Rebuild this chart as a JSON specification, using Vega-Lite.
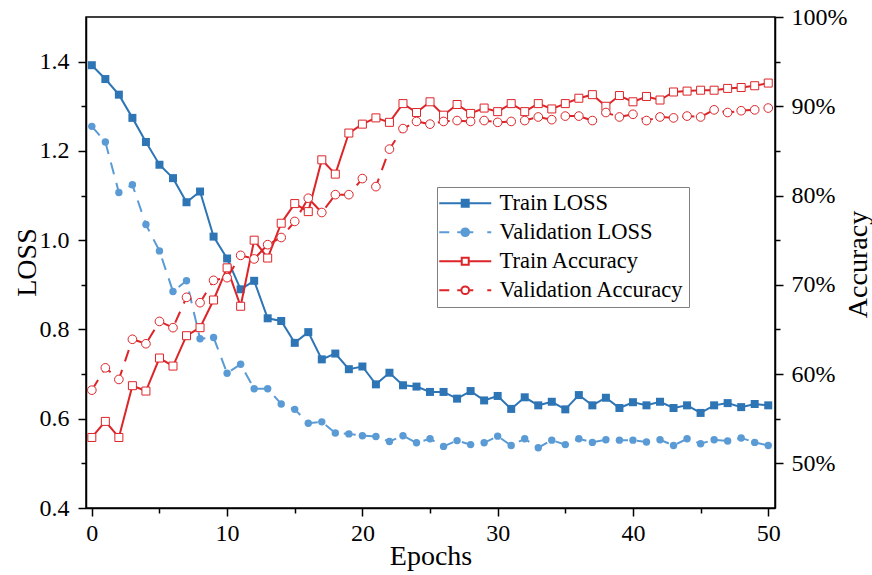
{
  "$schema": "https://vega.github.io/schema/vega-lite/v6.json",
  "width": 689,
  "height": 491,
  "autosize": {"type": "none"},
  "padding": {"left": 86, "top": 17, "right": 97, "bottom": 67},
  "background": "white",
  "config": {
    "view": {"stroke": "black", "strokeWidth": 1.5},
    "axis": {
      "grid": false,
      "domainColor": "black",
      "domainWidth": 1.5,
      "tickColor": "black",
      "tickWidth": 1.5,
      "labelFont": "Liberation Serif",
      "labelFontSize": 24,
      "labelColor": "black",
      "titleFont": "Liberation Serif",
      "titleFontSize": 28,
      "titleFontWeight": "normal",
      "titleColor": "black"
    },
    "legend": {
      "orient": "none",
      "legendX": 351,
      "legendY": 170,
      "padding": 5,
      "fillColor": "white",
      "strokeColor": "#808080",
      "labelFont": "Liberation Serif",
      "labelFontSize": 22.5,
      "labelColor": "black",
      "labelLimit": 0,
      "labelOffset": 35,
      "rowPadding": 6,
      "symbolSize": 196,
      "symbolStrokeWidth": 2,
      "symbolOpacity": 1
    }
  },
  "datasets": {
    "curves": [
      {"epoch": 0, "train_loss": 1.392, "val_loss": 1.255, "train_acc": 0.529, "val_acc": 0.582},
      {"epoch": 1, "train_loss": 1.361, "val_loss": 1.220, "train_acc": 0.547, "val_acc": 0.607},
      {"epoch": 2, "train_loss": 1.326, "val_loss": 1.107, "train_acc": 0.529, "val_acc": 0.594},
      {"epoch": 3, "train_loss": 1.274, "val_loss": 1.124, "train_acc": 0.587, "val_acc": 0.639},
      {"epoch": 4, "train_loss": 1.220, "val_loss": 1.035, "train_acc": 0.581, "val_acc": 0.634},
      {"epoch": 5, "train_loss": 1.169, "val_loss": 0.976, "train_acc": 0.618, "val_acc": 0.659},
      {"epoch": 6, "train_loss": 1.139, "val_loss": 0.885, "train_acc": 0.609, "val_acc": 0.652},
      {"epoch": 7, "train_loss": 1.085, "val_loss": 0.909, "train_acc": 0.643, "val_acc": 0.686},
      {"epoch": 8, "train_loss": 1.109, "val_loss": 0.779, "train_acc": 0.652, "val_acc": 0.680},
      {"epoch": 9, "train_loss": 1.008, "val_loss": 0.782, "train_acc": 0.683, "val_acc": 0.705},
      {"epoch": 10, "train_loss": 0.959, "val_loss": 0.702, "train_acc": 0.719, "val_acc": 0.708},
      {"epoch": 11, "train_loss": 0.890, "val_loss": 0.722, "train_acc": 0.676, "val_acc": 0.733},
      {"epoch": 12, "train_loss": 0.909, "val_loss": 0.667, "train_acc": 0.750, "val_acc": 0.729},
      {"epoch": 13, "train_loss": 0.825, "val_loss": 0.667, "train_acc": 0.730, "val_acc": 0.745},
      {"epoch": 14, "train_loss": 0.819, "val_loss": 0.633, "train_acc": 0.769, "val_acc": 0.753},
      {"epoch": 15, "train_loss": 0.770, "val_loss": 0.621, "train_acc": 0.791, "val_acc": 0.771},
      {"epoch": 16, "train_loss": 0.794, "val_loss": 0.590, "train_acc": 0.782, "val_acc": 0.797},
      {"epoch": 17, "train_loss": 0.733, "val_loss": 0.593, "train_acc": 0.840, "val_acc": 0.781},
      {"epoch": 18, "train_loss": 0.746, "val_loss": 0.568, "train_acc": 0.824, "val_acc": 0.801},
      {"epoch": 19, "train_loss": 0.711, "val_loss": 0.566, "train_acc": 0.870, "val_acc": 0.801},
      {"epoch": 20, "train_loss": 0.717, "val_loss": 0.562, "train_acc": 0.880, "val_acc": 0.819},
      {"epoch": 21, "train_loss": 0.677, "val_loss": 0.560, "train_acc": 0.887, "val_acc": 0.810},
      {"epoch": 22, "train_loss": 0.703, "val_loss": 0.549, "train_acc": 0.882, "val_acc": 0.852},
      {"epoch": 23, "train_loss": 0.675, "val_loss": 0.562, "train_acc": 0.903, "val_acc": 0.875},
      {"epoch": 24, "train_loss": 0.672, "val_loss": 0.546, "train_acc": 0.893, "val_acc": 0.883},
      {"epoch": 25, "train_loss": 0.660, "val_loss": 0.555, "train_acc": 0.905, "val_acc": 0.880},
      {"epoch": 26, "train_loss": 0.660, "val_loss": 0.538, "train_acc": 0.890, "val_acc": 0.883},
      {"epoch": 27, "train_loss": 0.645, "val_loss": 0.551, "train_acc": 0.902, "val_acc": 0.884},
      {"epoch": 28, "train_loss": 0.662, "val_loss": 0.542, "train_acc": 0.892, "val_acc": 0.883},
      {"epoch": 29, "train_loss": 0.641, "val_loss": 0.546, "train_acc": 0.898, "val_acc": 0.884},
      {"epoch": 30, "train_loss": 0.651, "val_loss": 0.561, "train_acc": 0.894, "val_acc": 0.882},
      {"epoch": 31, "train_loss": 0.622, "val_loss": 0.540, "train_acc": 0.903, "val_acc": 0.883},
      {"epoch": 32, "train_loss": 0.648, "val_loss": 0.555, "train_acc": 0.894, "val_acc": 0.884},
      {"epoch": 33, "train_loss": 0.630, "val_loss": 0.535, "train_acc": 0.903, "val_acc": 0.888},
      {"epoch": 34, "train_loss": 0.638, "val_loss": 0.552, "train_acc": 0.897, "val_acc": 0.885},
      {"epoch": 35, "train_loss": 0.621, "val_loss": 0.542, "train_acc": 0.903, "val_acc": 0.889},
      {"epoch": 36, "train_loss": 0.653, "val_loss": 0.555, "train_acc": 0.909, "val_acc": 0.889},
      {"epoch": 37, "train_loss": 0.630, "val_loss": 0.547, "train_acc": 0.913, "val_acc": 0.884},
      {"epoch": 38, "train_loss": 0.647, "val_loss": 0.553, "train_acc": 0.900, "val_acc": 0.893},
      {"epoch": 39, "train_loss": 0.624, "val_loss": 0.552, "train_acc": 0.912, "val_acc": 0.888},
      {"epoch": 40, "train_loss": 0.637, "val_loss": 0.552, "train_acc": 0.905, "val_acc": 0.891},
      {"epoch": 41, "train_loss": 0.630, "val_loss": 0.548, "train_acc": 0.911, "val_acc": 0.884},
      {"epoch": 42, "train_loss": 0.638, "val_loss": 0.553, "train_acc": 0.907, "val_acc": 0.888},
      {"epoch": 43, "train_loss": 0.624, "val_loss": 0.540, "train_acc": 0.916, "val_acc": 0.887},
      {"epoch": 44, "train_loss": 0.630, "val_loss": 0.555, "train_acc": 0.917, "val_acc": 0.889},
      {"epoch": 45, "train_loss": 0.613, "val_loss": 0.544, "train_acc": 0.918, "val_acc": 0.888},
      {"epoch": 46, "train_loss": 0.630, "val_loss": 0.553, "train_acc": 0.918, "val_acc": 0.896},
      {"epoch": 47, "train_loss": 0.635, "val_loss": 0.550, "train_acc": 0.920, "val_acc": 0.893},
      {"epoch": 48, "train_loss": 0.626, "val_loss": 0.557, "train_acc": 0.921, "val_acc": 0.895},
      {"epoch": 49, "train_loss": 0.633, "val_loss": 0.547, "train_acc": 0.923, "val_acc": 0.896},
      {"epoch": 50, "train_loss": 0.630, "val_loss": 0.540, "train_acc": 0.926, "val_acc": 0.898}
    ],
    "series": [
      {"series": "Train LOSS"},
      {"series": "Validation LOSS"},
      {"series": "Train Accuracy"},
      {"series": "Validation Accuracy"}
    ]
  },
  "layer": [
    {
      "data": {"name": "curves"},
      "layer": [
        {
          "mark": {"type": "line", "strokeWidth": 2, "color": "#2e75b6", "point": {"shape": "square", "size": 64, "filled": true, "color": "#2e75b6"}},
          "encoding": {
            "x": {"field": "epoch", "type": "quantitative", "scale": {"domain": [-0.43, 50.5], "nice": false, "zero": false},
              "axis": {"title": "Epochs", "values": [0, 5, 10, 15, 20, 25, 30, 35, 40, 45, 50], "labelExpr": "datum.value % 10 == 0 ? datum.label : ''", "tickSize": {"condition": {"test": "datum.value % 10 == 0", "value": 8}, "value": 5}, "labelPadding": 5, "titleY": 48, "titleBaseline": "middle", "labelFlush": false}},
            "y": {"field": "train_loss", "type": "quantitative", "scale": {"domain": [0.4, 1.5], "nice": false, "zero": false},
              "axis": {"title": "LOSS", "values": [0.4, 0.5, 0.6, 0.7, 0.8, 0.9, 1.0, 1.1, 1.2, 1.3, 1.4], "labelExpr": "round(datum.value * 10) % 2 == 0 ? format(datum.value, '.1f') : ''", "tickSize": {"condition": {"test": "round(datum.value * 10) % 2 == 0", "value": 8}, "value": 5}, "labelPadding": 9, "titleAngle": 270, "titleX": -59, "titleY": 245, "titleAlign": "center", "titleBaseline": "middle", "labelFlush": false}}
          }
        },
        {
          "mark": {"type": "line", "strokeWidth": 2, "color": "#5b9bd5", "strokeDash": [12, 9], "point": {"shape": "circle", "size": 55, "filled": true, "color": "#5b9bd5"}},
          "encoding": {
            "x": {"field": "epoch", "type": "quantitative"},
            "y": {"field": "val_loss", "type": "quantitative", "title": "LOSS"}
          }
        }
      ]
    },
    {
      "data": {"name": "curves"},
      "layer": [
        {
          "mark": {"type": "line", "strokeWidth": 2, "color": "#dd2428", "point": {"shape": "square", "size": 64, "filled": false, "fill": "white", "stroke": "#dd2428", "strokeWidth": 1}},
          "encoding": {
            "x": {"field": "epoch", "type": "quantitative"},
            "y": {"field": "train_acc", "type": "quantitative", "scale": {"domain": [0.45, 1.0], "nice": false, "zero": false},
              "axis": {"orient": "right", "title": "Accuracy", "titleAngle": 270, "titleX": 83, "titleY": 247, "titleAlign": "center", "titleBaseline": "middle", "values": [0.5, 0.55, 0.6, 0.65, 0.7, 0.75, 0.8, 0.85, 0.9, 0.95, 1.0], "labelExpr": "round(datum.value * 100) % 10 == 0 ? format(datum.value, '.0%') : ''", "tickSize": {"condition": {"test": "round(datum.value * 100) % 10 == 0", "value": 8}, "value": 5}, "labelPadding": 8, "labelFlush": false}}
          }
        },
        {
          "mark": {"type": "line", "strokeWidth": 2, "color": "#dd2428", "strokeDash": [12, 9], "point": {"shape": "circle", "size": 75, "filled": false, "fill": "white", "stroke": "#dd2428", "strokeWidth": 1}},
          "encoding": {
            "x": {"field": "epoch", "type": "quantitative"},
            "y": {"field": "val_acc", "type": "quantitative", "title": "Accuracy"}
          }
        }
      ]
    },
    {
      "data": {"name": "series"},
      "mark": {"type": "point", "filled": true, "opacity": 0, "size": 196, "strokeWidth": 2},
      "encoding": {
        "shape": {"field": "series", "type": "nominal",
          "scale": {"domain": ["Train LOSS", "Validation LOSS", "Train Accuracy", "Validation Accuracy"],
            "range": [
              "M-2,0H5.43M1.21,-0.5H2.21V0.5H1.21Z",
              "M-2,0H-0.57M0.57,0H2.86M4.86,0H5.43M2.26,0A0.55,0.55 0 1 1 1.16,0A0.55,0.55 0 1 1 2.26,0Z",
              "M-2,0H1.21M2.21,0H5.43M1.21,-0.5H2.21V0.5H1.21Z",
              "M-2,0H-0.57M0.57,0H1.16M2.26,0H2.86M4.86,0H5.43M2.26,0A0.55,0.55 0 1 1 1.16,0A0.55,0.55 0 1 1 2.26,0Z"
            ]},
          "legend": {"title": null}},
        "fill": {"field": "series", "type": "nominal",
          "scale": {"domain": ["Train LOSS", "Validation LOSS", "Train Accuracy", "Validation Accuracy"], "range": ["#2e75b6", "#5b9bd5", "#ffffff", "#ffffff"]},
          "legend": {"title": null}},
        "stroke": {"field": "series", "type": "nominal",
          "scale": {"domain": ["Train LOSS", "Validation LOSS", "Train Accuracy", "Validation Accuracy"], "range": ["#2e75b6", "#5b9bd5", "#dd2428", "#dd2428"]},
          "legend": {"title": null}}
      }
    }
  ],
  "resolve": {"scale": {"y": "independent"}}
}
